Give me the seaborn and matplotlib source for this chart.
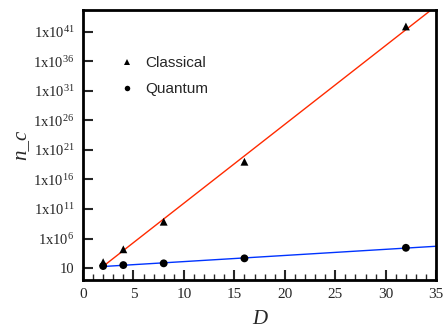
import numpy as np
import pandas as pd
import matplotlib
matplotlib.use("Agg")
import matplotlib.pyplot as plt
import seaborn as sns
from matplotlib.ticker import FixedLocator, MultipleLocator, NullLocator, FixedFormatter

# Data
D = [2, 4, 8, 16, 32]
classical = [1e2, 1.5e4, 7e8, 1e19, 8e41]
quantum = [22, 32, 63, 440, 2.7e4]
series_names = ["Classical", "Quantum"]
ytick_exps = [1, 6, 11, 16, 21, 26, 31, 36, 41]
ytick_labels = ["10"] + [f"1x10$^{{{e}}}$" for e in ytick_exps[1:]]
xticks = [0, 5, 10, 15, 20, 25, 30, 35]

sns.set_style("white")
plt.rcParams["font.family"] = ["Liberation Serif", "DejaVu Serif"]
plt.rcParams["mathtext.fontset"] = "custom"
plt.rcParams["mathtext.rm"] = "Liberation Serif"
plt.rcParams["mathtext.it"] = "Liberation Serif:italic"

df = pd.DataFrame({
    "D": D * 2,
    "n": classical + quantum,
    "kind": [series_names[0]] * len(D) + [series_names[1]] * len(D),
})

fig = plt.figure(figsize=(4.46, 3.32), dpi=100)
ax = fig.add_axes([0.186, 0.157, 0.792, 0.813])

# fit lines (least squares on log10 values)
xs = np.linspace(2, 35, 100)
for name, vals, col in [("Classical", classical, "#ff2a00"), ("Quantum", quantum, "#0033ff")]:
    p = np.polyfit(D, np.log10(vals), 1)
    fit = pd.DataFrame({"D": xs, "n": 10 ** np.polyval(p, xs)})
    sns.lineplot(data=fit, x="D", y="n", ax=ax, color=col, lw=1.0, legend=False)

sns.scatterplot(data=df, x="D", y="n", style="kind", markers={"Classical": "^", "Quantum": "o"},
                color="black", s=32, edgecolor="black", linewidth=0, ax=ax, legend=True, zorder=5)

ax.set_yscale("log")
ax.set_xlim(0, 35)
ax.set_ylim(1e-1, 5e44)

ax.xaxis.set_major_locator(FixedLocator(xticks))
ax.xaxis.set_minor_locator(MultipleLocator(1))
ax.yaxis.set_major_locator(FixedLocator([10.0 ** e for e in ytick_exps]))
ax.yaxis.set_major_formatter(FixedFormatter(ytick_labels))
ax.yaxis.set_minor_locator(NullLocator())

ax.tick_params(axis="both", which="major", direction="in", length=7, width=1.5,
               labelsize=11, top=False, right=False, bottom=True, left=True, pad=6)
ax.tick_params(axis="y", which="major", labelsize=10.5)
ax.tick_params(axis="x", which="minor", direction="in", length=4, width=1.0, bottom=True, top=False)
for s in ax.spines.values():
    s.set_linewidth(2)
    s.set_color("black")

ax.set_xlabel("D", fontsize=15, style="italic", labelpad=6)
ax.set_ylabel("n_c", fontsize=15, style="italic")
ax.yaxis.set_label_coords(-0.15, 0.5)

handles, labels = ax.get_legend_handles_labels()
leg = ax.legend(handles=handles, labels=labels, loc="upper left", bbox_to_anchor=(0.05, 0.88),
                frameon=False, prop={"family": "Liberation Sans", "size": 11},
                handletextpad=0.4, labelspacing=0.8, markerscale=0.7, handlelength=1.6)

fig.savefig("out.png", dpi=100)
